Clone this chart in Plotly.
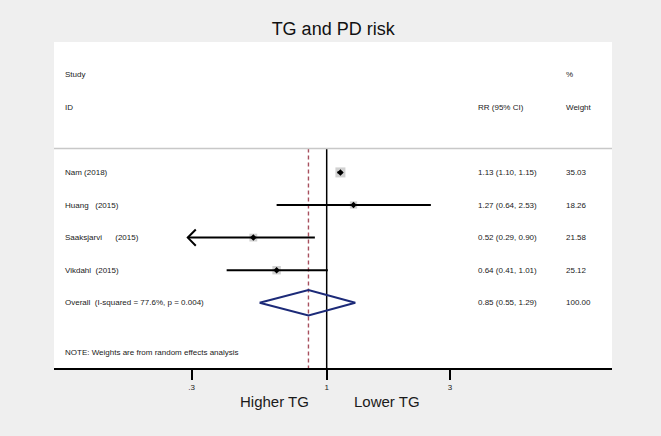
import plotly.graph_objects as go
import numpy as np

# ---- data ----
studies = ["Nam (2018)", "Huang\u00a0\u00a0\u00a0(2015)", "Saaksjarvi\u00a0\u00a0\u00a0\u00a0\u00a0\u00a0(2015)", "Vikdahl\u00a0\u00a0(2015)"]
rr = [1.13, 1.27, 0.52, 0.64]
ci_low = [1.10, 0.64, 0.29, 0.41]
ci_high = [1.15, 2.53, 0.90, 1.01]
weights = [35.03, 18.26, 21.58, 25.12]

overall_label = "Overall\u00a0\u00a0(I-squared = 77.6%, p = 0.004)"
overall_rr = 0.85
overall_low = 0.55
overall_high = 1.29
overall_weight = 100.00

tick_vals = [0.3, 1, 3]
tick_text = [".3", "1", "3"]

title = "TG and PD risk"
note = "NOTE: Weights are from random effects analysis"
left_label = "Higher TG"
right_label = "Lower TG"

# ---- figure ----
FONT = "Liberation Sans, Arial, sans-serif"
TXT = "#1a1a1a"
rows = list(range(1, len(studies) + 1))
overall_row = len(studies) + 1
sep_row = 0.27

fig = go.Figure()

# reference lines
fig.add_trace(go.Scatter(x=[1, 1], y=[sep_row, 7], mode="lines",
                         line=dict(color="black", width=1.5), hoverinfo="skip"))
fig.add_trace(go.Scatter(x=[overall_rr, overall_rr], y=[sep_row, 7], mode="lines",
                         line=dict(color="#a8505e", width=1.4, dash="4px,3px"), hoverinfo="skip"))

# weight boxes
sizes = [10 * np.sqrt(w / max(weights)) for w in weights]
fig.add_trace(go.Scatter(x=rr, y=rows, mode="markers",
                         marker=dict(symbol="square", size=sizes, color="#bdbdbd",
                                     line=dict(width=0)), hoverinfo="skip"))

# CI lines
xmin_tick = min(tick_vals)
for r, lo, hi in zip(rows, ci_low, ci_high):
    fig.add_trace(go.Scatter(x=[lo, hi], y=[r, r], mode="lines",
                             line=dict(color="black", width=2), hoverinfo="skip"))
    if lo < xmin_tick:
        f = 10 ** (8 / 258.4)
        fig.add_trace(go.Scatter(x=[lo * f, lo, lo * f], y=[r - 0.25, r, r + 0.25],
                                 mode="lines", line=dict(color="black", width=2),
                                 hoverinfo="skip"))

# point estimates
fig.add_trace(go.Scatter(x=rr, y=rows, mode="markers",
                         marker=dict(symbol="diamond", size=5, color="black"),
                         hoverinfo="skip"))

# overall diamond
h = 0.39
fig.add_trace(go.Scatter(x=[overall_low, overall_rr, overall_high, overall_rr, overall_low],
                         y=[overall_row, overall_row - h, overall_row, overall_row + h, overall_row],
                         mode="lines", line=dict(color="#1c2a78", width=2),
                         hoverinfo="skip"))

ann = []
def txt(x, y, s, size=8, xanchor="left", yref="y"):
    ann.append(dict(x=x, y=y, xref="paper", yref=yref, text=s, showarrow=False,
                    xanchor=xanchor, yanchor="middle",
                    font=dict(family=FONT, size=size, color=TXT)))

X_LAB, X_CI, X_W = 0.017, 0.7557, 0.914
txt(X_LAB, -2, "Study")
txt(X_LAB, -1, "ID")
txt(X_CI, -1, "RR (95% CI)")
txt(X_W, -2, "%")
txt(X_W, -1, "Weight")
for r, s, e, lo, hi, w in zip(rows, studies, rr, ci_low, ci_high, weights):
    txt(X_LAB, r, s)
    txt(X_CI, r, f"{e:.2f} ({lo:.2f}, {hi:.2f})")
    txt(X_W, r, f"{w:.2f}")
txt(X_LAB, overall_row, overall_label)
txt(X_CI, overall_row, f"{overall_rr:.2f} ({overall_low:.2f}, {overall_high:.2f})")
txt(X_W, overall_row, f"{overall_weight:.2f}")
txt(X_LAB, 6.53, note)
txt(0.395, -0.1034, left_label, size=15, xanchor="center", yref="paper")
txt(0.597, -0.1034, right_label, size=15, xanchor="center", yref="paper")

fig.update_layout(
    width=661, height=436,
    margin=dict(l=54, r=49, t=42, b=68),
    paper_bgcolor="#efefef", plot_bgcolor="white",
    showlegend=False,
    title=dict(text=title, x=0.504, y=1 - 29 / 436, xanchor="center", yanchor="middle",
               font=dict(family=FONT, size=18, color="#111111")),
    annotations=ann,
    shapes=[dict(type="line", xref="paper", yref="y", x0=0, x1=1, y0=sep_row, y1=sep_row,
                 line=dict(color="#c8c8c8", width=1.5))],
    xaxis=dict(type="log", range=[-1.0553, 1.1041], tickvals=tick_vals, ticktext=tick_text,
               showgrid=False, zeroline=False, showline=True, linecolor="black", linewidth=2,
               ticks="outside", ticklen=10, tickwidth=2, tickcolor="black",
               tickfont=dict(family=FONT, size=8, color=TXT), ticklabelstandoff=0),
    yaxis=dict(range=[7, -3], visible=False, showgrid=False, zeroline=False),
)

fig.write_html("out.html", config={"displayModeBar": False})
with open("out.html", "r", encoding="utf-8") as fh:
    html = fh.read()
html = html.replace("<head>", "<head><style>html,body{margin:0;padding:0;overflow:hidden;}</style>", 1)
with open("out.html", "w", encoding="utf-8") as fh:
    fh.write(html)
